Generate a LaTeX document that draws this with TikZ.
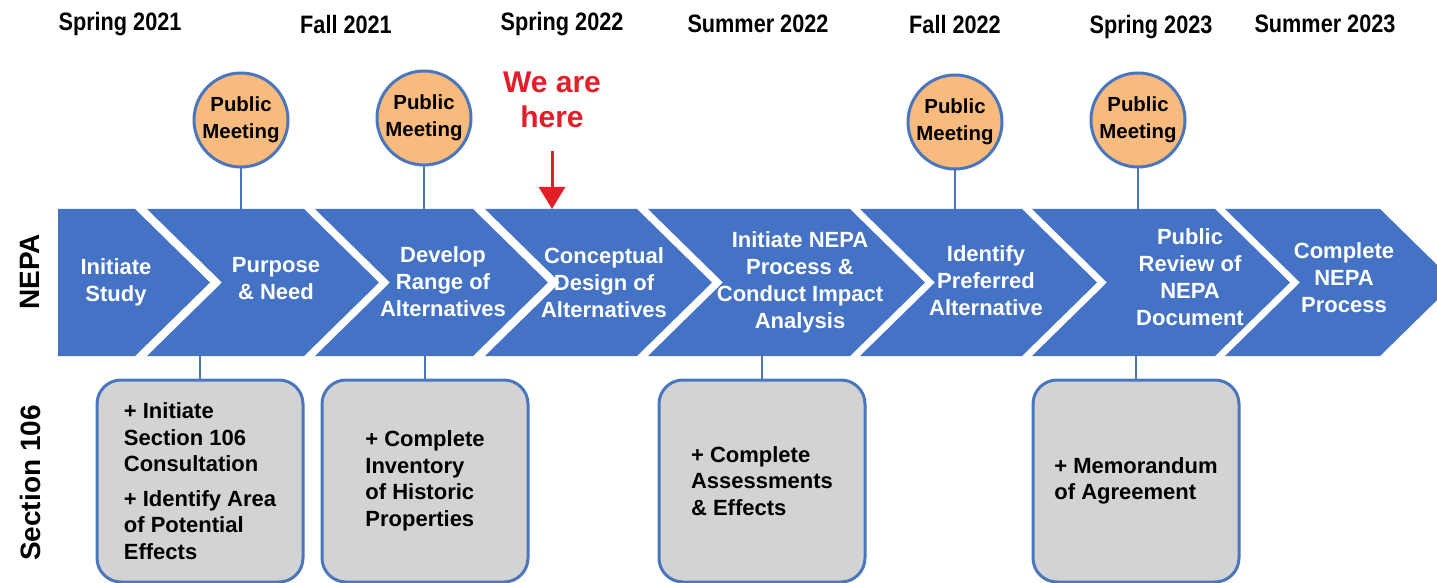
\documentclass[tikz,border=0pt]{standalone}
\usepackage{fontspec}
\setmainfont{Liberation Sans}
\newfontfamily\narrowfont[FakeStretch=0.86]{Liberation Sans}
\usetikzlibrary{arrows.meta}
\definecolor{nepablue}{HTML}{4472C4}
\definecolor{lineblue}{HTML}{4A76BD}
\definecolor{meetorange}{HTML}{F8BB7D}
\definecolor{taskgray}{HTML}{D3D3D3}
\definecolor{herered}{HTML}{E31E28}

\begin{document}
\begin{tikzpicture}[x=0.5pt,y=-0.5pt,font=\bfseries]
  \tikzstyle{season}=[font=\narrowfont\bfseries\fontsize{12.6}{15}\selectfont]
  \tikzstyle{phase}=[text=white,align=center,font=\bfseries\fontsize{11}{13.5}\selectfont]
  \tikzstyle{meeting}=[circle,draw=lineblue,line width=1.5pt,fill=meetorange,minimum size=47pt,inner sep=0pt,align=center,font=\bfseries\fontsize{10.2}{13.5}\selectfont]
  \tikzstyle{task}=[rectangle,rounded corners=12pt,draw=lineblue,line width=1.5pt,fill=taskgray,minimum width=103pt,minimum height=101pt,align=left,font=\bfseries\fontsize{11}{13.25}\selectfont]
  \tikzstyle{track}=[rotate=90,font=\bfseries\fontsize{14}{16}\selectfont]
  \tikzstyle{link}=[draw=lineblue,line width=1pt]
  \tikzstyle{pointer}=[draw=herered,line width=1.5pt,-{Triangle[width=13pt,length=11pt]}]

  \clip (0,0) rectangle (1437,583);

  \fill[nepablue] (58,209) -- (135,209) -- ++(75,73.5) -- (135,356) -- (58,356) -- cycle;
  \foreach \l/\r in {147/304,315/473,485/637,648/850,860/1022,1032/1215,1225/1380}
    \fill[nepablue] (\l,209) -- (\r,209) -- ++(75,73.5) -- (\r,356) -- (\l,356) -- ++(75,-73.5) -- cycle;

  \coordinate (top) at (0,209);
  \coordinate (bot) at (0,356);
  \coordinate (spot) at (552,209);

  \node[season] (t1) at (120,24) {Spring 2021};
  \node[season] (t2) at (346,24) {Fall 2021};
  \node[season] (t3) at (562,24) {Spring 2022};
  \node[season] (t4) at (758,24) {Summer 2022};
  \node[season] (t5) at (955,24) {Fall 2022};
  \node[season] (t6) at (1151,27) {Spring 2023};
  \node[season] (t7) at (1325,24) {Summer 2023};

  \node[track] (nepa) at (30,272) {NEPA};
  \node[track] (s106) at (30,483) {Section 106};

  \node[phase] (p1) at (116,282) {Initiate\\Study};
  \node[phase] (p2) at (276,279) {Purpose\\\& Need};
  \node[phase] (p3) at (443,282) {Develop\\Range of\\Alternatives};
  \node[phase] (p4) at (604,283) {Conceptual\\Design of\\Alternatives};
  \node[phase] (p5) at (800,282) {Initiate NEPA\\Process \&\\Conduct Impact\\Analysis};
  \node[phase] (p6) at (986,281) {Identify\\Preferred\\Alternative};
  \node[phase] (p7) at (1190,277) {Public\\Review of\\NEPA\\Document};
  \node[phase] (p8) at (1344,278) {Complete\\NEPA\\Process};

  \node[meeting] (m1) at (241,120) {Public\\Meeting};
  \node[meeting] (m2) at (424,118) {Public\\Meeting};
  \node[meeting] (m3) at (955,122) {Public\\Meeting};
  \node[meeting] (m4) at (1138,120) {Public\\Meeting};

  \node[task] (s1) at (200,481) {+ Initiate\\Section 106\\Consultation\\[4pt]+ Identify Area\\of Potential\\Effects};
  \node[task] (s2) at (425,481) {+ Complete\\Inventory\\of Historic\\Properties};
  \node[task] (s3) at (762,481) {+ Complete\\Assessments\\\& Effects};
  \node[task] (s4) at (1136,481) {+ Memorandum\\of Agreement};

  \draw[link] (m1) -- (m1 |- top);
  \draw[link] (m2) -- (m2 |- top);
  \draw[link] (m3) -- (m3 |- top);
  \draw[link] (m4) -- (m4 |- top);
  \draw[link] (s1) -- (s1 |- bot);
  \draw[link] (s2) -- (s2 |- bot);
  \draw[link] (s3) -- (s3 |- bot);
  \draw[link] (s4) -- (s4 |- bot);

  \node[text=herered,align=center,font=\bfseries\fontsize{15}{17.5}\selectfont] (here) at (552,100) {We are\\here};
  \draw[pointer,shorten <=8pt] (here.south) -- (spot);
\end{tikzpicture}
\end{document}
